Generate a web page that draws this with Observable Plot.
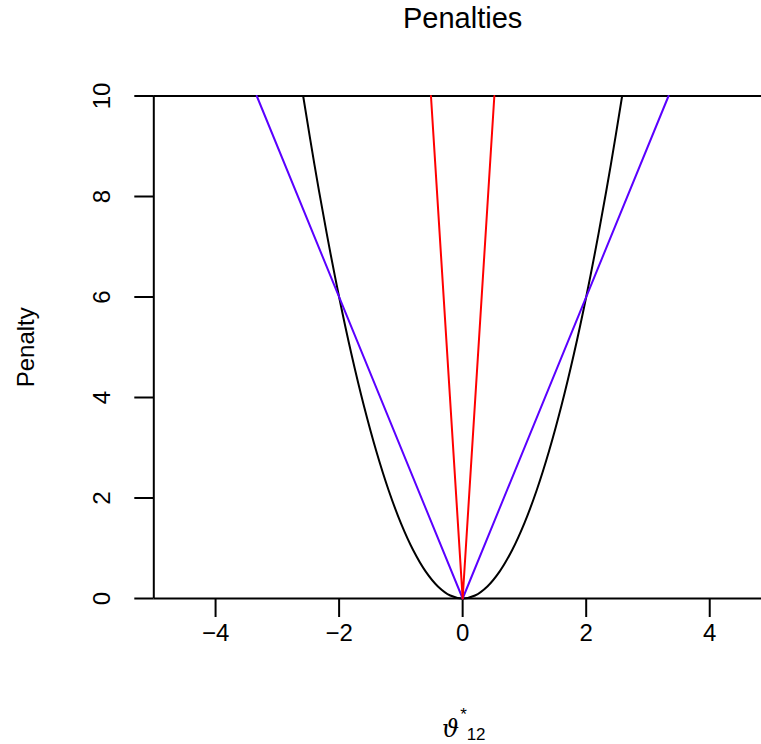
<!DOCTYPE html>
<html>
<head>
<meta charset="utf-8">
<script src="https://cdn.jsdelivr.net/npm/d3@7"></script>
<script src="https://cdn.jsdelivr.net/npm/@observablehq/plot@0.6"></script>
<style>
  html, body { margin: 0; padding: 0; background: #fff; overflow: hidden; }
</style>
</head>
<body>
<div id="chart"></div>
<script>
// Quadratic penalty (black), sampled along theta
const quadX = [-2.582, -2.4, -2.2, -2.0, -1.8, -1.6, -1.4, -1.2, -1.0, -0.8, -0.6, -0.4, -0.2, 0,
               0.2, 0.4, 0.6, 0.8, 1.0, 1.2, 1.4, 1.6, 1.8, 2.0, 2.2, 2.4, 2.582];
const quadY = [10, 8.64, 7.26, 6.0, 4.86, 3.84, 2.94, 2.16, 1.5, 0.96, 0.54, 0.24, 0.06, 0,
               0.06, 0.24, 0.54, 0.96, 1.5, 2.16, 2.94, 3.84, 4.86, 6.0, 7.26, 8.64, 10];

// Absolute-value penalty, moderate slope (blue)
const absX = [-3.333, 0, 3.333];
const absY = [10, 0, 10];

// Absolute-value penalty, steep slope (red)
const steepX = [-0.513, 0, 0.513];
const steepY = [10, 0, 10];

const xTicks = [-4, -2, 0, 2, 4];
const yTicks = [0, 2, 4, 6, 8, 10];

const toPoints = (xs, ys) => xs.map((x, i) => ({x, y: ys[i]}));
const quad = toPoints(quadX, quadY);
const abs = toPoints(absX, absY);
const steep = toPoints(steepX, steepY);

const font = "'Liberation Sans', Arial, Helvetica, sans-serif";

const chart = Plot.plot({
  width: 761,
  height: 744,
  marginTop: 95.5,
  marginBottom: 146,
  marginLeft: 153.3,
  marginRight: -10,
  x: {domain: [-5, 5]},
  y: {domain: [0, 10]},
  style: {fontFamily: font, fontSize: "24px", color: "#000", background: "#fff"},
  marks: [
    // reference lines at 0 and 10
    Plot.ruleY([0, 10], {x1: -5, x2: 5, stroke: "#000", strokeWidth: 2}),
    // left axis line
    Plot.ruleX([-5], {y1: 0, y2: 10, stroke: "#000", strokeWidth: 2}),
    Plot.axisY({ticks: yTicks, tickSize: 19, tickFormat: () => "", label: null, stroke: "#000", strokeWidth: 2}),
    Plot.text(yTicks, {y: d => d, text: d => String(d), frameAnchor: "left", dx: -44, rotate: -90,
      textAnchor: "middle", lineAnchor: "bottom", fontSize: 24, fill: "#000"}),
    Plot.axisX({ticks: xTicks, tickSize: 19, tickPadding: 6, label: null, fontSize: 24,
      stroke: "#000", strokeWidth: 2, fill: "#000"}),
    // penalty curves
    Plot.line(quad, {x: "x", y: "y", stroke: "#000", strokeWidth: 2, curve: "catmull-rom"}),
    Plot.line(abs, {x: "x", y: "y", stroke: "#5a00ff", strokeWidth: 2}),
    Plot.line(steep, {x: "x", y: "y", stroke: "#ff0000", strokeWidth: 2}),
    // title
    Plot.text(["Penalties"], {frameAnchor: "top", dy: -68, lineAnchor: "bottom", fontSize: 29, fill: "#000"}),
    // y label
    Plot.text(["Penalty"], {frameAnchor: "left", dx: -120, rotate: -90, textAnchor: "middle",
      lineAnchor: "bottom", fontSize: 24, fill: "#000"}),
    // x label: theta with superscript * and subscript 12
    Plot.text(["ϑ"], {frameAnchor: "bottom", dx: -12, dy: 138, textAnchor: "middle", lineAnchor: "bottom",
      fontSize: 24, fill: "#000", fontFamily: "'DejaVu Serif', serif", fontStyle: "italic"}),
    Plot.text(["*"], {frameAnchor: "bottom", dx: 1, dy: 121, textAnchor: "middle", lineAnchor: "bottom",
      fontSize: 17, fill: "#000"}),
    Plot.text(["12"], {frameAnchor: "bottom", dx: 4, dy: 141, textAnchor: "start", lineAnchor: "bottom",
      fontSize: 17, fill: "#000"})
  ]
});

document.getElementById("chart").appendChild(chart);
</script>
</body>
</html>
